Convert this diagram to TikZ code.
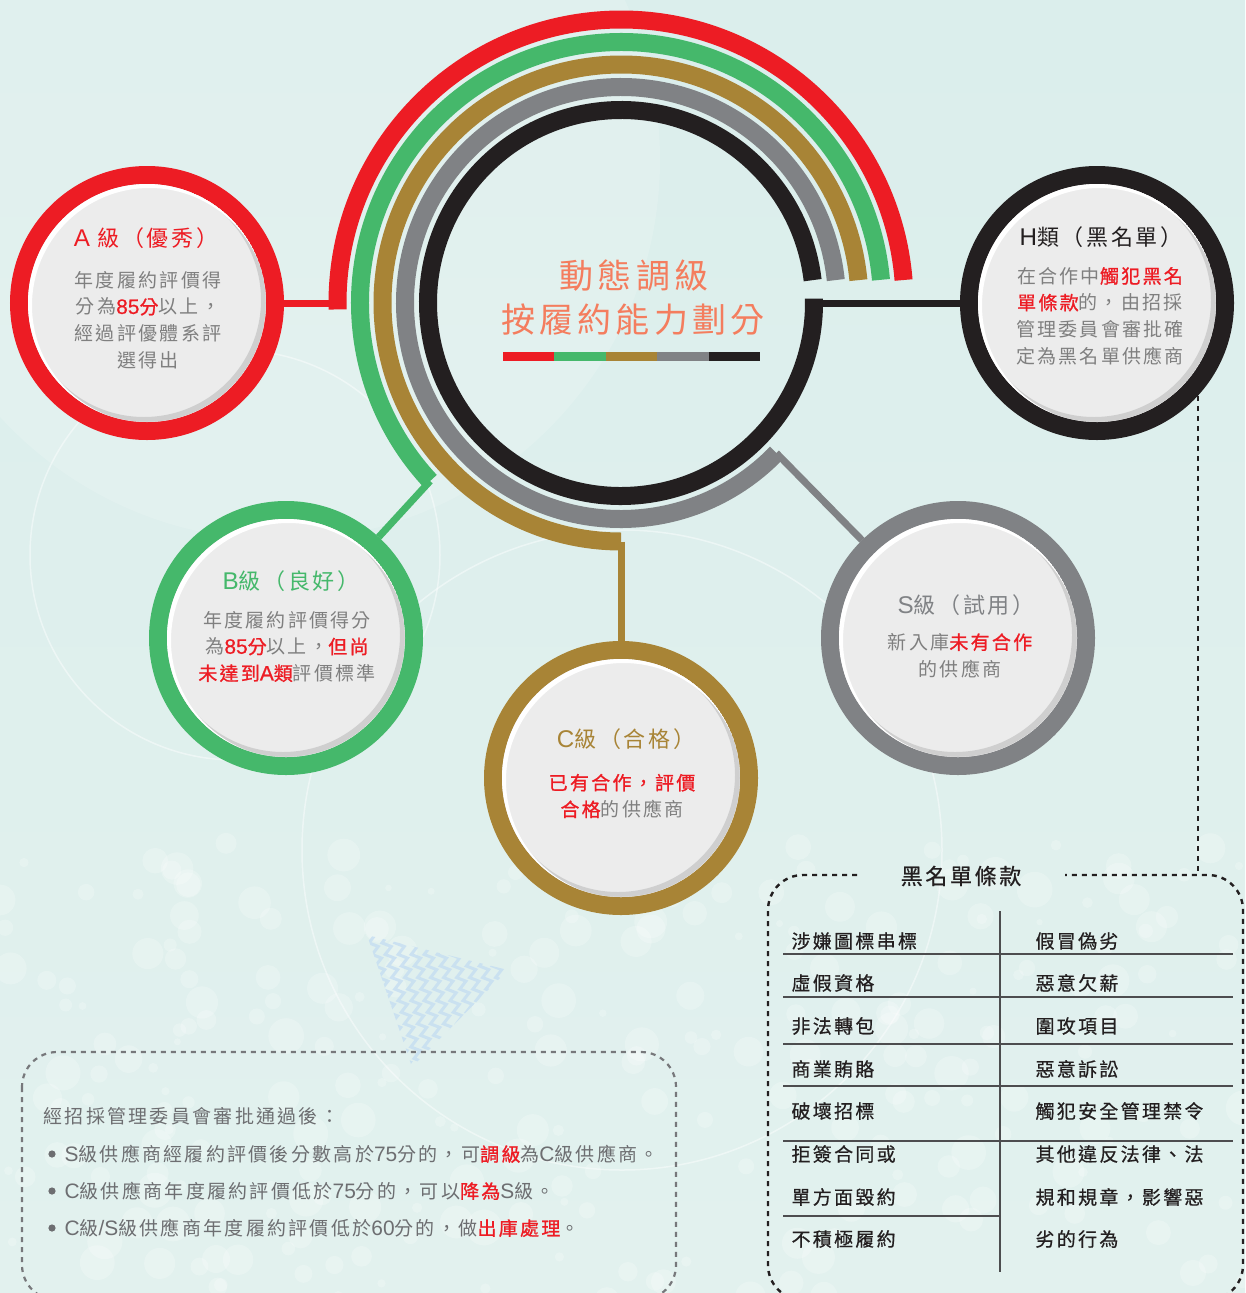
\documentclass[tikz,border=0pt]{standalone}
\usepackage{fontspec}
\setmainfont{Noto Sans CJK TC}[LetterSpace=12, BoldFont={Noto Sans CJK TC}, BoldFeatures={FakeBold=1.0}]
\newfontfamily\latfont{Liberation Sans}[Scale=1.1, BoldFeatures={FakeBold=0.6}, BoldFont={Liberation Sans}]
\newfontfamily\tabfont{Noto Sans CJK TC}[LetterSpace=12, FakeBold=0.6]
\usetikzlibrary{calc,decorations.pathmorphing}
\definecolor{cred}{HTML}{ED1C24}
\definecolor{cgreen}{HTML}{45B86B}
\definecolor{cbrown}{HTML}{A88436}
\definecolor{cgray}{HTML}{808285}
\definecolor{cblack}{HTML}{231F20}
\definecolor{ctxt}{HTML}{7F7F7F}
\definecolor{cbtxt}{HTML}{6D6E71}
\definecolor{ctitle}{HTML}{F47D5E}
\definecolor{cdisk}{HTML}{ECECEC}
\definecolor{cshadow}{HTML}{CFCFCF}
\definecolor{cline}{HTML}{4D4D4F}
\definecolor{cdash}{HTML}{77787B}
\definecolor{cbgtop}{HTML}{DBEEEC}
\definecolor{cbgbot}{HTML}{E2F1EE}
\definecolor{czig}{HTML}{C3DCF2}
\newcommand\hl[1]{{\color{cred}\bfseries #1}}
\newcommand\latn[1]{{\latfont #1}}
\newcommand\gradeshade[1]{%
  \begin{scope}
    \clip (#1) circle (119);
    \fill[cshadow, even odd rule] (#1) circle (119) ($(#1)+(-3,3)$) circle (117);
    \fill[white, even odd rule] (#1) circle (119) ($(#1)+(2.5,-2.5)$) circle (117.5);
  \end{scope}}
\tikzset{
  ring/.style={line width=18pt},
  link/.style={line width=7pt},
  grade/.style={circle, line width=18pt, fill=cdisk, minimum size=256pt, inner sep=0pt},
  gtitle/.style={font=\fontsize{22}{26}\selectfont},
  gbody/.style={font=\fontsize{19}{26.7}\selectfont, text=ctxt, align=center},
  tcell/.style={anchor=west, font=\tabfont\fontsize{19}{22}\selectfont, text=cblack},
  btext/.style={anchor=west, font=\fontsize{19}{22}\selectfont, text=cbtxt},
  rulel/.style={line width=1.4pt, draw=cline},
  blkdash/.style={line width=2.4pt, draw=cblack, dash pattern=on 5pt off 5pt},
  grydash/.style={line width=2.2pt, draw=cdash, dash pattern=on 5pt off 5pt},
  faint/.style={draw=white, line width=1.5pt, opacity=0.45},
}
\begin{document}
\begin{tikzpicture}[x=1pt,y=1pt]
\useasboundingbox (0,0) rectangle (1245,-1293);
\shade[top color=cbgtop, bottom color=cbgbot] (0,0) rectangle (1245,-1293);
% faint decorations
\fill[white, opacity=0.15] (280,-160) circle (380);
\draw[faint] (235,-555) circle (205);
\draw[faint] (622,-850) circle (320);
\pgfmathsetseed{7}
\foreach \i in {1,...,260}{
  \pgfmathsetmacro\rx{rnd*1245}
  \pgfmathsetmacro\ry{840+rnd*460}
  \pgfmathsetmacro\rr{3+rnd*15}
  \fill[white, opacity=0.22] (\rx,-\ry) circle (\rr);
}
\begin{scope}
  \clip (367,-935) -- (508,-970) -- (412,-1067) -- cycle;
  \foreach \k in {0,...,13}{
    \draw[czig, opacity=0.75, line width=3pt, decorate, decoration={zigzag, segment length=12pt, amplitude=4pt}]
      (325+13*\k,-910) -- (375+13*\k,-1090);
  }
\end{scope}

% concentric arcs
\coordinate (O) at (621,-303);
\draw[ring, cred]   ($(O)+(4.65:283.5)$) arc[start angle=4.65, end angle=181.3, radius=283.5];
\draw[ring, cgreen] ($(O)+(5.1:261)$)    arc[start angle=5.1,  end angle=223,   radius=261];
\draw[ring, cbrown] ($(O)+(5.5:238.5)$)  arc[start angle=5.5,  end angle=270,   radius=238.5];
\draw[ring, cgray]  ($(O)+(6.1:216)$)    arc[start angle=6.1,  end angle=316,   radius=216];
\draw[ring, cblack] ($(O)+(6.8:193)$)    arc[start angle=6.8,  end angle=361.3, radius=193];
\coordinate (redEnd)   at ($(O)+(180:283.5)$);
\coordinate (greenEnd) at ($(O)+(223:261)$);
\coordinate (brownEnd) at ($(O)+(270:238.5)$);
\coordinate (grayEnd)  at ($(O)+(316:216)$);
\coordinate (blackEnd) at ($(O)+(0:193)$);

% title
\node[text=ctitle, font=\fontsize{34}{40}\selectfont] (t1) at (634,-276) {動態調級};
\node[text=ctitle, font=\fontsize{34}{40}\selectfont] (t2) at (633,-320) {按履約能力劃分};
\foreach \c [count=\n from 0] in {cred,cgreen,cbrown,cgray,cblack}{
  \fill[\c] (503+51.4*\n,-352) rectangle (503+51.4*\n+51.4,-361);
}

% grade circles
\node[grade, draw=cred]   (A) at (147,-303) {};
\node[grade, draw=cblack] (H) at (1097,-303) {};
\node[grade, draw=cgreen] (B) at (286,-638) {};
\node[grade, draw=cbrown] (C) at (621,-778) {};
\node[grade, draw=cgray]  (S) at (958,-638) {};
\gradeshade{A}\gradeshade{H}\gradeshade{B}\gradeshade{C}\gradeshade{S}

% connectors
\draw[link, cred]   (redEnd) -- (A);
\draw[link, cgreen] (greenEnd) -- (B);
\draw[link, cbrown] (brownEnd) -- (C);
\draw[link, cgray]  (grayEnd) -- (S);
\draw[link, cblack] (blackEnd) -- (H);

% circle texts
\node[gtitle, text=cred] (At) at (146,-238) {\latn{A} 級（優秀）};
\node[gbody] (Ab) at (148,-320) {年度履約評價得\\分為\hl{\latn{85}分}以上，\\經過評優體系評\\選得出};
\node[gtitle, text=cblack] (Ht) at (1101,-237) {\latn{H}類（黑名單）};
\node[gbody] (Hb) at (1100,-316) {在合作中\hl{觸犯黑名}\\\hl{單條款}的，由招採\\管理委員會審批確\\定為黑名單供應商};
\node[gtitle, text=cgreen] (Bt) at (291,-581) {\latn{B}級（良好）};
\node[gbody] (Bb) at (287,-646.5) {年度履約評價得分\\為\hl{\latn{85}分}以上，\hl{但尚}\\\hl{未達到\latn{A}類}評價標準};
\node[gtitle, text=cbrown] (Ct) at (626,-739) {\latn{C}級（合格）};
\node[gbody] (Cb) at (622,-796) {\hl{已有合作，評價}\\\hl{合格}的供應商};
\node[gtitle, text=cgray] (St) at (966,-605) {\latn{S}級（試用）};
\node[gbody] (Sb) at (960,-655.5) {新入庫\hl{未有合作}\\的供應商};

% blacklist clause box
\coordinate (hdrop) at (1198,-396);
\coordinate (boxjoin) at (1198,-875);
\draw[blkdash] (hdrop) -- (boxjoin);
\draw[blkdash, rounded corners=35pt] (857,-875) -- (768,-875) -- (768,-1300) -- (1243,-1300) -- (1243,-875) -- (1065,-875);
\node[text=cblack, font=\tabfont\fontsize{22}{26}\selectfont] (bt) at (961,-876) {黑名單條款};
\draw[rulel] (1000,-911) -- (1000,-1272);
\foreach \yy in {954,997,1044,1086,1141}{ \draw[rulel] (783,-\yy) -- (1233,-\yy); }
\draw[rulel] (783,-1216) -- (1000,-1216);
\foreach \yy/\lcell/\rcell in {941/涉嫌圖標串標/假冒偽劣, 983/虛假資格/惡意欠薪, 1026/非法轉包/圍攻項目, 1069/商業賄賂/惡意訴訟, 1111/破壞招標/觸犯安全管理禁令, 1154/拒簽合同或/其他違反法律、法, 1197/單方面毀約/規和規章，影響惡, 1239/不積極履約/劣的行為}{
  \node[tcell] at (788,-\yy) {\lcell};
  \node[tcell] at (1032,-\yy) {\rcell};
}

% approval box
\draw[grydash, rounded corners=35pt] (22,-1052) rectangle (676,-1300);
\node[btext] (n0) at (40,-1116) {經招採管理委員會審批通過後：};
\foreach \yy in {1154,1191,1228}{ \fill[cbtxt] (52,-\yy) circle (3.6); }
\node[btext] (n1) at (61,-1154) {\latn{S}級供應商經履約評價後分數高於\latn{75}分的，可\hl{調級}為\latn{C}級供應商。};
\node[btext] (n2) at (61,-1191) {\latn{C}級供應商年度履約評價低於\latn{75}分的，可以\hl{降為}\latn{S}級。};
\node[btext] (n3) at (61,-1228) {\latn{C}級\latn{/S}級供應商年度履約評價低於\latn{60}分的，做\hl{出庫處理}。};
\end{tikzpicture}
\end{document}
